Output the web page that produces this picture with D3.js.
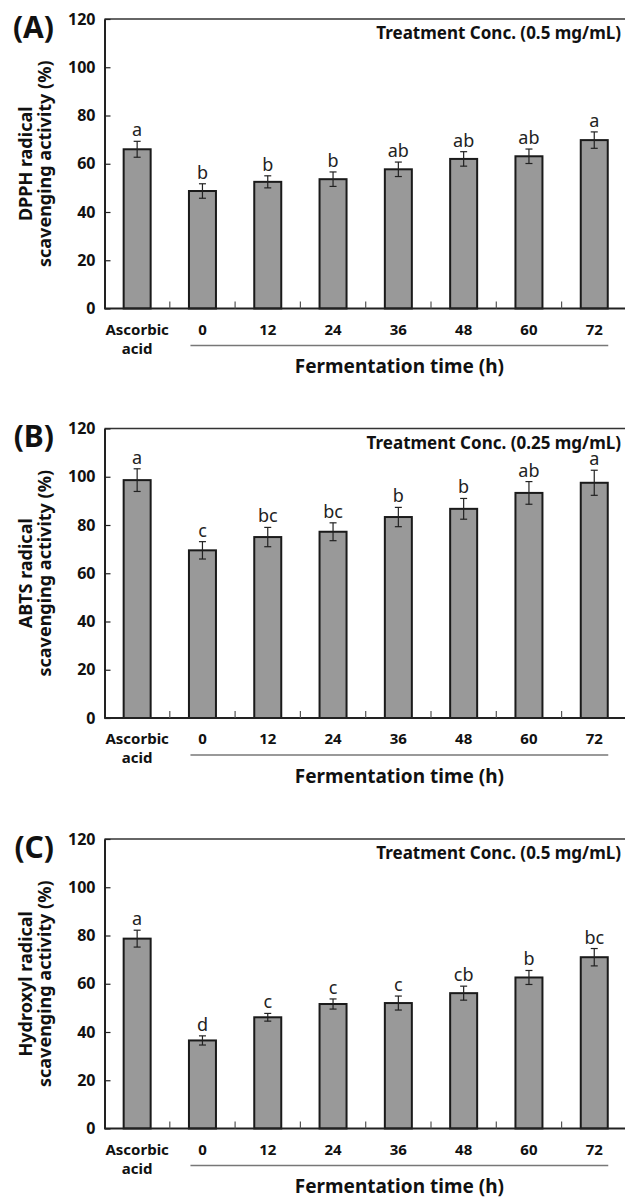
<!DOCTYPE html>
<html>
<head>
<meta charset="utf-8">
<script src="https://cdn.jsdelivr.net/npm/d3@7"></script>
<style>
    body {margin: 0; background: #fff;}
    svg {display: block; font-family: "Noto Sans", sans-serif;}
</style>
</head>
<body>
<svg id="paper"></svg>
<script>
// values
let categories = ["Ascorbic acid", "0", "12", "24", "36", "48", "60", "72"];
let yTicks = [0, 20, 40, 60, 80, 100, 120];

let dpphMean = [66, 48.7, 52.5, 53.6, 57.7, 62, 63.1, 69.8];
let dpphErr = [3.3, 3, 2.5, 3, 3, 3, 3, 3.4];
let dpphLetters = ["a", "b", "b", "b", "ab", "ab", "ab", "a"];

let abtsMean = [98.6, 69.5, 75, 77.2, 83.3, 86.7, 93.3, 97.5];
let abtsErr = [4.7, 3.6, 4, 3.7, 4, 4.3, 4.7, 5.2];
let abtsLetters = ["a", "c", "bc", "bc", "b", "b", "ab", "a"];

let hydroxylMean = [78.7, 36.5, 46.1, 51.6, 52, 56.1, 62.6, 71];
let hydroxylErr = [3.5, 1.9, 1.6, 2.1, 2.9, 2.9, 2.9, 3.6];
let hydroxylLetters = ["a", "d", "c", "c", "c", "cb", "b", "bc"];

let panels = [
    {tag: "(A)", title: ["DPPH radical", "scavenging activity (%)"], conc: "Treatment Conc. (0.5 mg/mL)",
        mean: dpphMean, err: dpphErr, letters: dpphLetters, top: 19},
    {tag: "(B)", title: ["ABTS radical", "scavenging activity (%)"], conc: "Treatment Conc. (0.25 mg/mL)",
        mean: abtsMean, err: abtsErr, letters: abtsLetters, top: 428.5},
    {tag: "(C)", title: ["Hydroxyl radical", "scavenging activity (%)"], conc: "Treatment Conc. (0.5 mg/mL)",
        mean: hydroxylMean, err: hydroxylErr, letters: hydroxylLetters, top: 839}
];

let left = 104.5,
    plotW = 8 * 65.3,
    plotH = 289.5;

let svg = d3.select("#paper")
    .attr("width", 625)
    .attr("height", 1198);

let x = d3.scaleBand().domain(categories).range([0, plotW]);
let y = d3.scaleLinear().domain([0, 120]).range([plotH, 0]);
let barW = 27;

panels.forEach(p => {
    let g = svg.append("g")
        .attr("transform", "translate(" + left + "," + p.top + ")");

    // frame: top line
    g.append("line")
        .attr("x1", 0).attr("x2", plotW + 10)
        .attr("y1", 0).attr("y2", 0)
        .attr("stroke", "#333").attr("stroke-width", 1.5);

    // y axis
    let yAxis = g.append("g")
        .call(d3.axisLeft(y).tickValues(yTicks).tickSize(-6).tickPadding(9).tickSizeOuter(0));
    yAxis.select(".domain").attr("stroke", "#222").attr("stroke-width", 2);
    yAxis.selectAll(".tick line").attr("stroke", "#222").attr("stroke-width", 1.2);
    yAxis.selectAll(".tick text")
        .attr("fill", "#111")
        .style("font-family", "'Noto Sans', sans-serif")
        .style("font-size", "16px")
        .style("font-weight", "bold");

    // bars
    g.selectAll(".bar")
        .data(p.mean)
        .enter()
        .append("rect")
        .classed("bar", true)
        .attr("x", (d, i) => x(categories[i]) + x.bandwidth() / 2 - barW / 2)
        .attr("y", d => y(d))
        .attr("width", barW)
        .attr("height", d => plotH - y(d))
        .attr("fill", "#999")
        .attr("stroke", "#1a1a1a")
        .attr("stroke-width", 2);

    // error bars
    let eb = g.selectAll(".err")
        .data(p.mean)
        .enter()
        .append("g")
        .classed("err", true)
        .attr("transform", (d, i) => "translate(" + (x(categories[i]) + x.bandwidth() / 2) + ",0)");
    eb.append("line")
        .attr("x1", 0).attr("x2", 0)
        .attr("y1", (d, i) => y(d + p.err[i]))
        .attr("y2", (d, i) => y(d - p.err[i]));
    eb.append("line")
        .attr("x1", -3.5).attr("x2", 3.5)
        .attr("y1", (d, i) => y(d + p.err[i]))
        .attr("y2", (d, i) => y(d + p.err[i]));
    eb.append("line")
        .attr("x1", -3.5).attr("x2", 3.5)
        .attr("y1", (d, i) => y(d - p.err[i]))
        .attr("y2", (d, i) => y(d - p.err[i]));
    eb.selectAll("line").attr("stroke", "#222").attr("stroke-width", 1.2);

    // significance letters
    g.selectAll(".sig")
        .data(p.letters)
        .enter()
        .append("text")
        .classed("sig", true)
        .attr("x", (d, i) => x(categories[i]) + x.bandwidth() / 2)
        .attr("y", (d, i) => y(p.mean[i] + p.err[i]) - 5)
        .attr("text-anchor", "middle")
        .style("font-size", "18px")
        .attr("fill", "#222")
        .text(d => d);

    // x axis
    g.append("line")
        .attr("x1", 0).attr("x2", plotW + 10)
        .attr("y1", plotH).attr("y2", plotH)
        .attr("stroke", "#222").attr("stroke-width", 2);
    g.selectAll(".xtick")
        .data(categories.slice(1))
        .enter()
        .append("line")
        .attr("x1", d => x(d)).attr("x2", d => x(d))
        .attr("y1", plotH).attr("y2", plotH - 7)
        .attr("stroke", "#555").attr("stroke-width", 1.2);

    let xl = g.selectAll(".xlab")
        .data(categories)
        .enter()
        .append("text")
        .attr("x", d => x(d) + x.bandwidth() / 2)
        .attr("y", plotH + 26)
        .attr("text-anchor", "middle")
        .style("font-size", "15px")
        .style("font-weight", "bold")
        .attr("fill", "#111");
    xl.each(function (d) {
        let words = d.split(" ");
        let t = d3.select(this);
        words.forEach((w, k) => {
            t.append("tspan")
                .attr("x", x(d) + x.bandwidth() / 2)
                .attr("dy", k == 0 ? 0 : 19)
                .text(w);
        });
    });

    // bracket under fermentation times
    let x0 = x(categories[1]) + x.bandwidth() / 2 - 12,
        x1 = x(categories[7]) + x.bandwidth() / 2 + 14;
    g.append("line")
        .attr("x1", x0).attr("x2", x1)
        .attr("y1", plotH + 37).attr("y2", plotH + 37)
        .attr("stroke", "#777").attr("stroke-width", 1.5);
    g.append("text")
        .attr("x", (x0 + x1) / 2)
        .attr("y", plotH + 64.5)
        .attr("text-anchor", "middle")
        .style("font-size", "19px")
        .style("font-weight", "bold")
        .attr("fill", "#111")
        .text("Fermentation time (h)");

    // treatment concentration note
    g.append("text")
        .attr("x", 621 - left)
        .attr("y", 20)
        .attr("text-anchor", "end")
        .style("font-size", "17px")
        .style("font-weight", "bold")
        .attr("fill", "#111")
        .text(p.conc);

    // y title, two lines
    let yt = g.append("text")
        .attr("transform", "translate(" + (31.5 - left) + "," + (plotH / 2) + ") rotate(-90)")
        .attr("text-anchor", "middle")
        .style("font-size", "18px")
        .style("font-weight", "bold")
        .attr("fill", "#111");
    p.title.forEach((line, k) => {
        yt.append("tspan")
            .attr("x", 0)
            .attr("dy", k == 0 ? 0 : 19)
            .text(line);
    });

    // panel tag
    g.append("text")
        .attr("x", 54 - left)
        .attr("y", 18.5)
        .attr("text-anchor", "end")
        .style("font-size", "30px")
        .style("font-weight", "bold")
        .attr("fill", "#111")
        .text(p.tag);
});
</script>
</body>
</html>
